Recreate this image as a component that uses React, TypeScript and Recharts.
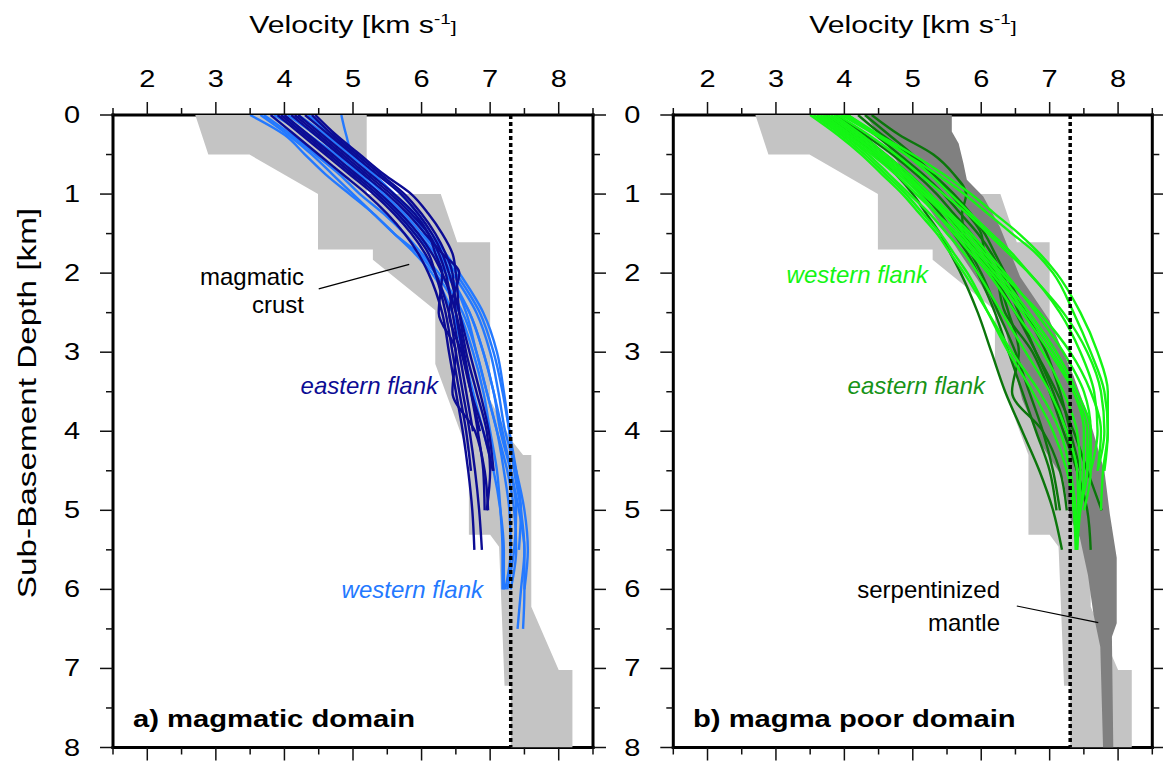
import { ComposedChart, Scatter, XAxis, YAxis } from 'recharts';

// depth grid (km) shared by every velocity profile
const DEPTHS = [0, 0.25, 0.5, 0.75, 1, 1.25, 1.5, 1.75, 2, 2.5, 3, 3.5, 4, 4.5, 5, 5.5, 6, 6.5];

const V_TICKS = [1.5, 2, 2.5, 3, 3.5, 4, 4.5, 5, 5.5, 6, 6.5, 7, 7.5, 8, 8.5];
const Z_TICKS = [0, 0.5, 1, 1.5, 2, 2.5, 3, 3.5, 4, 4.5, 5, 5.5, 6, 6.5, 7, 7.5, 8];
const V_REF = 7.3;

// leader lines for the annotations, [velocity, depth]
const CRUST_LEADER = [[4.5, 2.2], [5.82, 1.89]];
const MANTLE_LEADER = [[6.52, 6.21], [7.71, 6.42]];

// reference envelope for magmatic crust, [velocity, depth]
const CRUST_ENVELOPE = [
  [2.7, 0], [5.2, 0], [5.2, 1.0], [6.28, 1.0], [6.52, 1.61], [7.0, 1.61], [7.0, 3.6], [7.3, 4.1],
  [7.48, 4.3], [7.6, 4.3], [7.6, 6.22], [8.0, 7.02], [8.2, 7.02], [8.2, 8.0], [7.3, 8.0], [7.3, 7.22],
  [7.21, 7.22], [7.17, 6.31], [7.13, 5.46], [7.0, 5.31], [6.69, 5.31], [6.69, 4.3], [6.2, 3.15],
  [6.2, 2.47], [5.29, 1.83], [5.29, 1.7], [4.49, 1.7], [4.49, 1.0], [3.49, 0.5], [2.89, 0.5],
];

// envelope for serpentinized mantle, [velocity, depth]
const MANTLE_ENVELOPE = [
  [4.3, 0], [5.57, 0], [5.57, 0.21], [5.67, 0.36], [5.74, 0.61], [5.79, 0.82], [6.03, 1.03], [6.27, 1.41],
  [6.57, 2.05], [7.0, 2.6], [7.35, 3.3], [7.6, 3.9], [7.8, 4.5], [7.88, 5.05], [7.98, 5.6], [7.98, 6.43],
  [7.91, 6.6], [7.93, 8.0], [7.78, 8.0], [7.74, 6.73], [7.64, 6.31], [7.56, 5.82], [7.44, 5.34], [7.3, 5.1],
  [7.2, 4.6], [6.9, 4.2], [6.6, 3.6], [6.45, 3.1], [6.35, 2.7], [6.0, 2.15], [5.5, 1.5], [5.0, 0.9], [4.6, 0.35],
];

// magmatic domain, eastern flank (velocity at DEPTHS)
const MAG_EAST = [
  [3.8, 4.15, 4.5, 4.85, 5.2, 5.5, 5.75, 5.95, 6.1, 6.3, 6.4, 6.5, 6.6, 6.68, 6.74, 6.77],
  [3.9, 4.25, 4.6, 4.95, 5.3, 5.6, 5.85, 6.05, 6.2, 6.4, 6.5, 6.6, 6.7, 6.78, 6.84, 6.88],
  [4.0, 4.35, 4.7, 5.05, 5.4, 5.7, 5.95, 6.15, 6.3, 6.5, 6.62, 6.72, 6.82, 6.9, 6.92],
  [4.1, 4.45, 4.8, 5.15, 5.5, 5.8, 6.05, 6.3, 6.55, 6.4, 6.58, 6.72, 6.9, 7.04],
  [4.15, 4.5, 4.85, 5.2, 5.55, 5.85, 6.1, 6.25, 6.35, 6.45, 6.55, 6.65, 6.75],
  [4.2, 4.55, 4.9, 5.25, 5.6, 5.9, 6.1, 6.2, 6.3, 6.25, 6.5, 6.45, 6.78, 6.92, 6.97],
  [4.3, 4.65, 5.0, 5.35, 5.7, 5.95, 6.15, 6.3, 6.4, 6.55, 6.7, 6.85, 6.98, 7.05],
  [4.4, 4.7, 5.05, 5.4, 5.75, 6.0, 6.2, 6.35, 6.45, 6.5, 6.6, 6.72, 6.85],
  [4.45, 4.75, 5.1, 5.45, 5.85, 6.1, 6.3, 6.45, 6.5, 6.55, 6.65, 6.8, 6.95, 7.0, 6.95],
  [3.95, 4.3, 4.65, 5.0, 5.35, 5.65, 5.9, 6.1, 6.2, 6.35, 6.45, 6.55, 6.65, 6.72],
];

// magmatic domain, western flank
const MAG_WEST = [
  [3.5, 4.0, 4.3, 4.6, 4.95, 5.3, 5.6, 5.95, 6.2, 6.55, 6.75, 6.9, 7.0, 7.1, 7.15, 7.18, 7.18],
  [3.7, 4.1, 4.45, 4.8, 5.1, 5.45, 5.75, 6.0, 6.25, 6.6, 6.8, 6.95, 7.1, 7.2, 7.28, 7.3, 7.22],
  [3.85, 4.3, 4.65, 5.0, 5.35, 5.65, 5.9, 6.15, 6.35, 6.7, 6.9, 7.05, 7.15, 7.3, 7.42, 7.5, 7.5, 7.48],
  [4.05, 4.45, 4.8, 5.15, 5.45, 5.75, 6.0, 6.25, 6.45, 6.8, 7.0, 7.12, 7.22, 7.38, 7.5, 7.55, 7.5],
  [4.83, 4.9, 5.0, 5.3, 5.6, 5.9, 6.1, 6.3, 6.5, 6.85, 7.05, 7.18, 7.28, 7.38, 7.45, 7.42],
  [4.2, 4.6, 4.95, 5.3, 5.6, 5.85, 6.05, 6.25, 6.4, 6.7, 6.9, 7.05, 7.18, 7.3, 7.38, 7.35, 7.25],
  [3.65, 4.05, 4.4, 4.7, 5.0, 5.3, 5.6, 5.9, 6.15, 6.45, 6.6, 6.75, 6.9, 7.05, 7.15, 7.2, 7.2],
  [4.35, 4.7, 5.05, 5.4, 5.7, 5.95, 6.15, 6.35, 6.55, 6.9, 7.1, 7.2, 7.28, 7.35, 7.45, 7.5, 7.45, 7.4],
  [3.95, 4.35, 4.75, 5.1, 5.4, 5.7, 5.95, 6.2, 6.4, 6.65, 6.8, 6.95, 7.1, 7.25, 7.35, 7.38, 7.3],
];

// magma poor domain, eastern flank
const POOR_EAST = [
  [4.4, 4.8, 5.3, 5.6, 5.78, 5.72, 5.75, 5.95, 6.15, 6.5, 6.8, 7.1, 7.35, 7.55, 7.76],
  [4.2, 4.55, 4.95, 5.3, 5.55, 5.8, 6.0, 6.05, 6.2, 6.35, 6.75, 7.0, 7.2, 7.4, 7.55, 7.6],
  [3.85, 4.25, 4.6, 4.95, 5.25, 5.5, 5.7, 5.85, 6.0, 6.25, 6.5, 6.7, 6.9, 7.05, 7.15],
  [3.7, 4.1, 4.45, 4.75, 5.0, 5.2, 5.4, 5.55, 5.7, 5.95, 6.15, 6.35, 6.6, 6.85, 7.05, 7.18],
  [4.05, 4.45, 4.8, 5.15, 5.45, 5.7, 5.95, 6.15, 6.3, 6.55, 6.8, 7.05, 7.25, 7.4],
  [3.9, 4.3, 4.7, 5.05, 5.35, 5.6, 5.85, 6.05, 6.2, 6.4, 6.55, 6.45, 6.9, 7.15, 7.25],
  [4.3, 4.65, 5.0, 5.3, 5.6, 5.85, 6.05, 6.2, 6.35, 6.65, 6.95, 7.15, 7.3, 7.45],
  [3.75, 4.15, 4.5, 4.85, 5.15, 5.4, 5.6, 5.8, 5.95, 6.2, 6.4, 6.6, 6.8, 7.0, 7.1],
];

// magma poor domain, western flank
const POOR_WEST = [
  [3.55, 3.95, 4.3, 4.6, 4.9, 5.15, 5.4, 5.6, 5.8, 6.1, 6.4, 6.75, 7.05, 7.25, 7.35, 7.38],
  [3.6, 4.0, 4.35, 4.65, 4.95, 5.25, 5.5, 5.75, 5.95, 6.3, 6.65, 7.0, 7.25, 7.4, 7.42, 7.4],
  [3.65, 4.05, 4.45, 4.8, 5.1, 5.35, 5.6, 5.85, 6.1, 6.5, 6.9, 7.2, 7.4, 7.45, 7.42],
  [3.75, 4.15, 4.5, 4.85, 5.15, 5.45, 5.7, 5.95, 6.2, 6.65, 7.05, 7.35, 7.5, 7.5, 7.45],
  [3.85, 4.25, 4.6, 4.95, 5.25, 5.55, 5.85, 6.1, 6.35, 6.8, 7.2, 7.5, 7.6, 7.55],
  [3.9, 4.35, 4.75, 5.1, 5.45, 5.8, 6.1, 6.4, 6.7, 7.15, 7.45, 7.65, 7.7, 7.6],
  [3.95, 4.45, 4.9, 5.35, 5.75, 6.1, 6.45, 6.8, 7.05, 7.35, 7.6, 7.8, 7.85, 7.8],
  [4.0, 4.5, 5.0, 5.45, 5.85, 6.2, 6.55, 6.85, 7.1, 7.45, 7.7, 7.85, 7.85, 7.78, 7.75],
  [3.7, 4.1, 4.5, 4.85, 5.2, 5.5, 5.8, 6.05, 6.3, 6.85, 7.3, 7.6, 7.75, 7.7],
  [3.8, 4.2, 4.55, 4.9, 5.2, 5.5, 5.75, 6.0, 6.25, 6.7, 7.1, 7.4, 7.6, 7.6, 7.5],
  [3.5, 3.9, 4.25, 4.55, 4.85, 5.1, 5.35, 5.55, 5.75, 6.1, 6.45, 6.85, 7.15, 7.3, 7.38, 7.4],
  [4.05, 4.5, 4.9, 5.25, 5.55, 5.85, 6.15, 6.45, 6.7, 7.2, 7.55, 7.75, 7.8, 7.7],
  [3.6, 4.0, 4.4, 4.75, 5.05, 5.35, 5.65, 5.9, 6.15, 6.6, 7.0, 7.35, 7.55, 7.55, 7.45, 7.4],
];

const FONT = '"Liberation Sans", Arial, Helvetica, sans-serif';
const SX = 1.26; // axis labels in the figure use a wide face
const NAVY = '#0c0c94';
const SKY = '#2479ff';
const LIME = '#14f514';
const FOREST = '#0b760b';
const LIGHT_GRAY = '#c4c4c4';
const DARK_GRAY = '#808080';

const frame = { stroke: '#000', strokeWidth: 3, strokeLinecap: 'square' as const };

const toProfile = (vs: number[]) => vs.map((v, i) => ({ v, z: DEPTHS[i] }));
const toPoints = (pairs: number[][]) => pairs.map(([v, z]) => ({ v, z }));
const noDot = () => <g />;

function vTick(side: 'top' | 'bottom') {
  return (props: any) => {
    const { x, y, payload } = props;
    const major = Number.isInteger(payload.value);
    const len = major ? 13 : 7;
    const dir = side === 'top' ? -1 : 1;
    return (
      <g>
        <line x1={x} x2={x} y1={y} y2={y + dir * len} stroke="#111" strokeWidth={1.5} />
        {side === 'top' && major && (
          <text transform={`translate(${x} ${y - 28}) scale(${SX} 1)`} textAnchor="middle"
            fontSize={23} fontFamily={FONT} fill="#000">{payload.value}</text>
        )}
      </g>
    );
  };
}

function zTick(side: 'left' | 'right') {
  return (props: any) => {
    const { x, y, payload } = props;
    const major = Number.isInteger(payload.value);
    const len = major ? 13 : 7;
    const dir = side === 'left' ? -1 : 1;
    return (
      <g>
        <line x1={x} x2={x + dir * len} y1={y} y2={y} stroke="#111" strokeWidth={1.5} />
        {side === 'left' && major && (
          <text transform={`translate(${x - 33} ${y + 8}) scale(${SX} 1)`} textAnchor="end"
            fontSize={23} fontFamily={FONT} fill="#000">{payload.value}</text>
        )}
      </g>
    );
  };
}

function Panel(props: {
  width: number;
  margin: { top: number; right: number; bottom: number; left: number };
  children: React.ReactNode;
}) {
  return (
    <ComposedChart width={props.width} height={771} margin={props.margin}>
      <XAxis xAxisId="top" orientation="top" type="number" dataKey="v" domain={[1.5, 8.5]}
        ticks={V_TICKS} interval={0} allowDataOverflow height={40} tickSize={0} tickMargin={0}
        tickLine={false} axisLine={frame} tick={vTick('top')} />
      <XAxis xAxisId="bottom" orientation="bottom" type="number" dataKey="v" domain={[1.5, 8.5]}
        ticks={V_TICKS} interval={0} allowDataOverflow height={20} tickSize={0} tickMargin={0}
        tickLine={false} axisLine={frame} tick={vTick('bottom')} />
      <YAxis yAxisId="left" orientation="left" type="number" dataKey="z" domain={[0, 8]} reversed
        ticks={Z_TICKS} interval={0} allowDataOverflow width={50} tickSize={0} tickMargin={0}
        tickLine={false} axisLine={frame} tick={zTick('left')} />
      <YAxis yAxisId="right" orientation="right" type="number" dataKey="z" domain={[0, 8]} reversed
        ticks={Z_TICKS} interval={0} allowDataOverflow width={10} tickSize={0} tickMargin={0}
        tickLine={false} axisLine={frame} tick={zTick('right')} />
      {props.children}
    </ComposedChart>
  );
}

function envelope(name: string, pairs: number[][], color: string) {
  return (
    <Scatter key={name} xAxisId="top" yAxisId="left" data={toPoints(pairs)} shape={noDot}
      line={{ fill: color, stroke: 'none' }} lineJointType="linear" isAnimationActive={false} />
  );
}

function profiles(prefix: string, rows: number[][], color: string) {
  return rows.map((row, i) => (
    <Scatter key={`${prefix}${i}`} xAxisId="top" yAxisId="left" data={toProfile(row)} shape={noDot}
      line={{ stroke: color, strokeWidth: 2.4, fill: 'none' }} lineJointType="monotoneY"
      isAnimationActive={false} />
  ));
}

// straight segment drawn as a series so it sits above the grey fills
function segment(name: string, pairs: number[][], style: Record<string, unknown>) {
  return (
    <Scatter key={name} xAxisId="top" yAxisId="left" data={toPoints(pairs)} shape={noDot}
      line={{ fill: 'none', ...style }} lineJointType="linear" isAnimationActive={false} />
  );
}

const REF_LINE = [[V_REF, 0], [V_REF, 8]];
const dotted = { stroke: '#000', strokeWidth: 3.5, strokeDasharray: '4 3' };
const leader = { stroke: '#000', strokeWidth: 1.2 };

function Txt(p: {
  x: number; y: number; anchor?: 'start' | 'middle' | 'end'; size?: number; color?: string;
  bold?: boolean; italic?: boolean; sx?: number; children: React.ReactNode;
}) {
  return (
    <text transform={`translate(${p.x} ${p.y}) scale(${p.sx ?? 1} 1)`} textAnchor={p.anchor ?? 'start'}
      fontSize={p.size ?? 24} fontFamily={FONT} fill={p.color ?? '#000'}
      fontWeight={p.bold ? 'bold' : 'normal'} fontStyle={p.italic ? 'italic' : 'normal'}>
      {p.children}
    </text>
  );
}

function VelocityTitle({ cx }: { cx: number }) {
  return (
    <text transform={`translate(${cx} 33) scale(${SX} 1)`} textAnchor="middle" fontSize={24} fontFamily={FONT}>
      Velocity [km s<tspan fontSize={15} dy={-9}>-1</tspan><tspan fontSize={17} dy={9}>]</tspan>
    </text>
  );
}

export default function App() {
  return (
    <div style={{ position: 'absolute', left: 0, top: 0, width: 1163, height: 771, background: '#fff' }}>
      <div style={{ position: 'absolute', left: 0, top: 0 }}>
        <Panel width={610} margin={{ top: 75, right: 7, bottom: 3.5, left: 63 }}>
          {envelope('crust', CRUST_ENVELOPE, LIGHT_GRAY)}
          {profiles('mw', MAG_WEST, SKY)}
          {profiles('me', MAG_EAST, NAVY)}
          {segment('ref', REF_LINE, dotted)}
          {segment('leader', CRUST_LEADER, leader)}
        </Panel>
      </div>
      <div style={{ position: 'absolute', left: 610, top: 0 }}>
        <Panel width={553} margin={{ top: 75, right: 0.7, bottom: 3.5, left: 13.3 }}>
          {envelope('crust', CRUST_ENVELOPE, LIGHT_GRAY)}
          {envelope('mantle', MANTLE_ENVELOPE, DARK_GRAY)}
          {profiles('pe', POOR_EAST, FOREST)}
          {profiles('pw', POOR_WEST, LIME)}
          {segment('ref', REF_LINE, dotted)}
          {segment('leader', MANTLE_LEADER, leader)}
        </Panel>
      </div>
      <svg width={1163} height={771} style={{ position: 'absolute', left: 0, top: 0, pointerEvents: 'none' }}>
        <VelocityTitle cx={353} />
        <VelocityTitle cx={913} />
        <text transform="translate(36 403) rotate(-90) scale(1.28 1)" textAnchor="middle" fontSize={26}
          fontFamily={FONT}>Sub-Basement Depth [km]</text>
        <Txt x={304} y={285} anchor="end">magmatic</Txt>
        <Txt x={304} y={313} anchor="end">crust</Txt>
        <Txt x={438} y={394} anchor="end" italic color={NAVY}>eastern flank</Txt>
        <Txt x={483} y={598} anchor="end" italic color={SKY}>western flank</Txt>
        <Txt x={928} y={283} anchor="end" italic color={LIME}>western flank</Txt>
        <Txt x={985} y={394} anchor="end" italic color="#179317">eastern flank</Txt>
        <Txt x={1000} y={598} anchor="end">serpentinized</Txt>
        <Txt x={1000} y={631} anchor="end">mantle</Txt>
        <Txt x={133} y={727} bold size={23} sx={1.27}>a) magmatic domain</Txt>
        <Txt x={693} y={727} bold size={23} sx={1.27}>b) magma poor domain</Txt>
      </svg>
    </div>
  );
}
